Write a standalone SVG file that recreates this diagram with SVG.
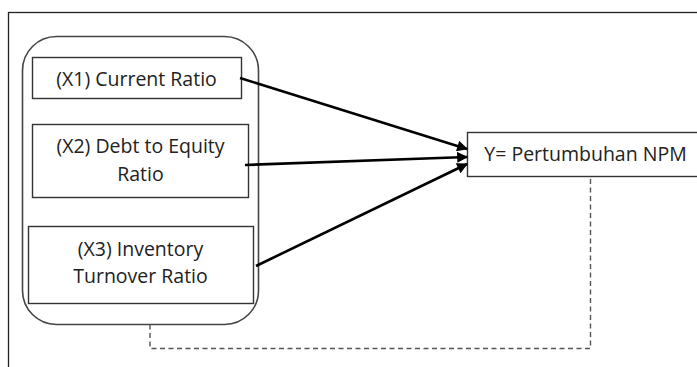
<svg xmlns="http://www.w3.org/2000/svg" width="697" height="367" viewBox="0 0 697 367">
  <style>
    .frame { fill: none; stroke: #222; stroke-width: 1.3; }
    .group { fill: none; stroke: #444; stroke-width: 1.6; }
    .box { fill: #fff; stroke: #333; stroke-width: 1.4; }
    .label { font-family: "Open Sans", "Noto Sans", sans-serif; font-size: 19.5px; fill: #222; text-anchor: middle; }
    .arrow { fill: none; stroke: #000; stroke-width: 2.6; marker-end: url(#head); }
    .dashed { fill: none; stroke: #555; stroke-width: 1.4; stroke-dasharray: 5 3.5; }
  </style>
  <defs>
    <marker id="head" viewBox="0 0 10 10" refX="9" refY="5" markerWidth="4.6" markerHeight="4.2" orient="auto" markerUnits="strokeWidth">
      <path d="M0,0 L10,5 L0,10 z" fill="#000"/>
    </marker>
  </defs>

  <rect width="697" height="367" fill="#fff"/>
  <!-- outer frame -->
  <rect class="frame" x="8.5" y="12.5" width="720" height="400"/>

  <!-- grouping of independent variables -->
  <rect id="independent-group" class="group" x="22.5" y="36.5" width="236" height="288" rx="34" ry="34"/>

  <g id="x1">
    <rect class="box" x="32.5" y="57.5" width="209" height="41"/>
    <text class="label" x="136.5" y="86">(X1) Current Ratio</text>
  </g>

  <g id="x2">
    <rect class="box" x="32.5" y="124.5" width="216" height="73"/>
    <text class="label" x="140.5" y="153">(X2) Debt to Equity</text>
    <text class="label" x="140.5" y="181">Ratio</text>
  </g>

  <g id="x3">
    <rect class="box" x="28.5" y="226.5" width="225" height="77"/>
    <text class="label" x="140.5" y="256">(X3) Inventory</text>
    <text class="label" x="140.5" y="283">Turnover Ratio</text>
  </g>

  <g id="y">
    <rect class="box" x="467.5" y="132.5" width="236" height="44"/>
    <text class="label" x="585.5" y="161">Y= Pertumbuhan NPM</text>
  </g>

  <g id="connectors">
    <path class="arrow" d="M240,78 L467,149"/>
    <path class="arrow" d="M245,165 L467,157"/>
    <path class="arrow" d="M256,266 L467,164"/>
    <path class="dashed" d="M150,324.5 V348.5 H590.5 V177"/>
  </g>
</svg>
